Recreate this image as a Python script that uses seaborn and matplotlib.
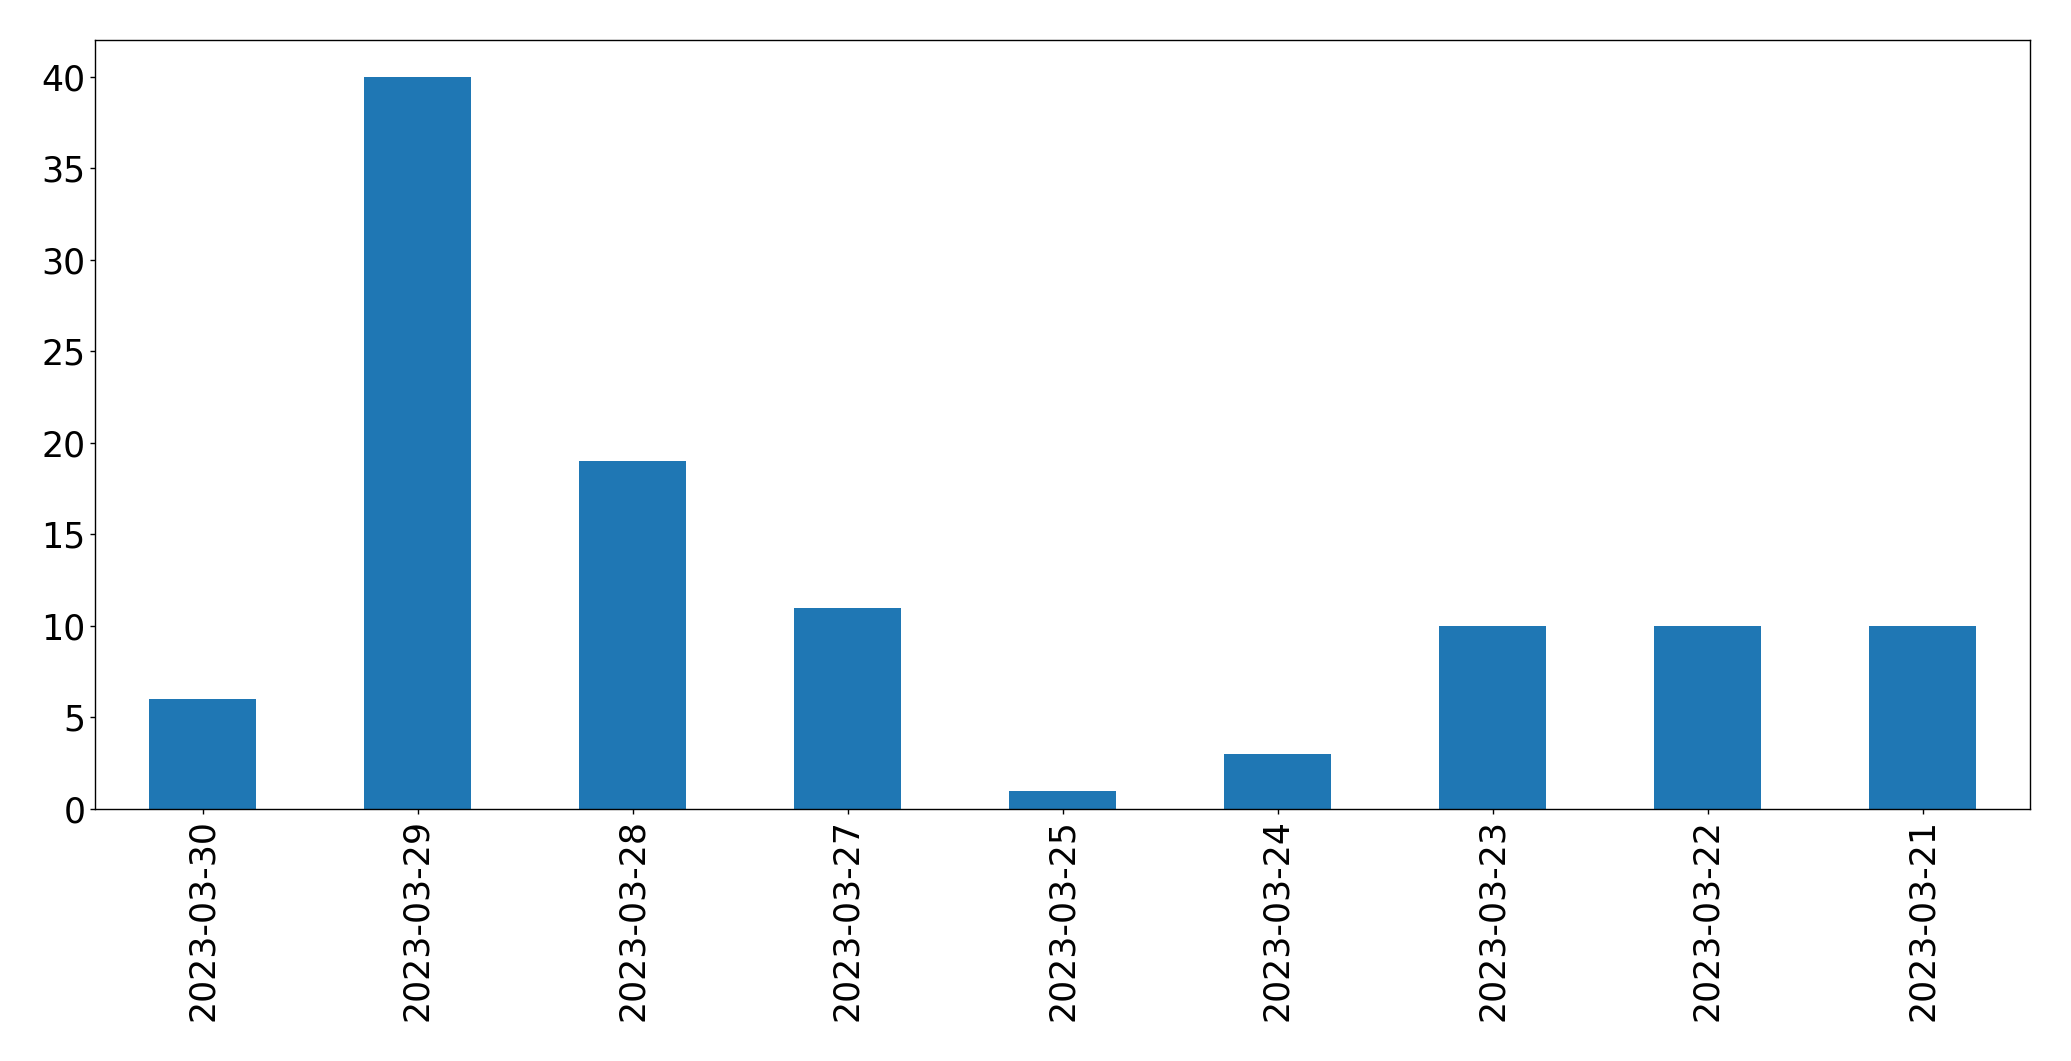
import matplotlib
matplotlib.use("Agg")
import matplotlib.pyplot as plt
import seaborn as sns
import pandas as pd

dates = ["2023-03-30", "2023-03-29", "2023-03-28", "2023-03-27", "2023-03-25",
         "2023-03-24", "2023-03-23", "2023-03-22", "2023-03-21"]
counts = [6, 40, 19, 11, 1, 3, 10, 10, 10]

df = pd.DataFrame({"date": dates, "count": counts})

sns.set_style("white")
plt.rcParams["font.family"] = ["DejaVu Sans"]

fig = plt.figure(figsize=(20.71, 10.61), dpi=100)
ax = fig.add_axes([95/2071, 1 - 809/1061, (2030-95)/2071, (809-40)/1061])
sns.barplot(data=df, x="date", y="count", order=dates, color="#1f77b4",
            saturation=1, width=0.5, linewidth=0, ax=ax)
ax.set_xlabel("")
ax.set_ylabel("")
ax.set_xlim(-0.5, len(dates) - 0.5)
ax.set_yticks(range(0, 45, 5))
ax.tick_params(axis="both", labelsize=25, length=3.5, width=1, color="black",
               labelcolor="black", bottom=True, left=True)
ax.tick_params(axis="x", labelrotation=90)
for s in ax.spines.values():
    s.set_visible(True)
    s.set_color("black")
    s.set_linewidth(1)
fig.savefig("out.png", dpi=100)
